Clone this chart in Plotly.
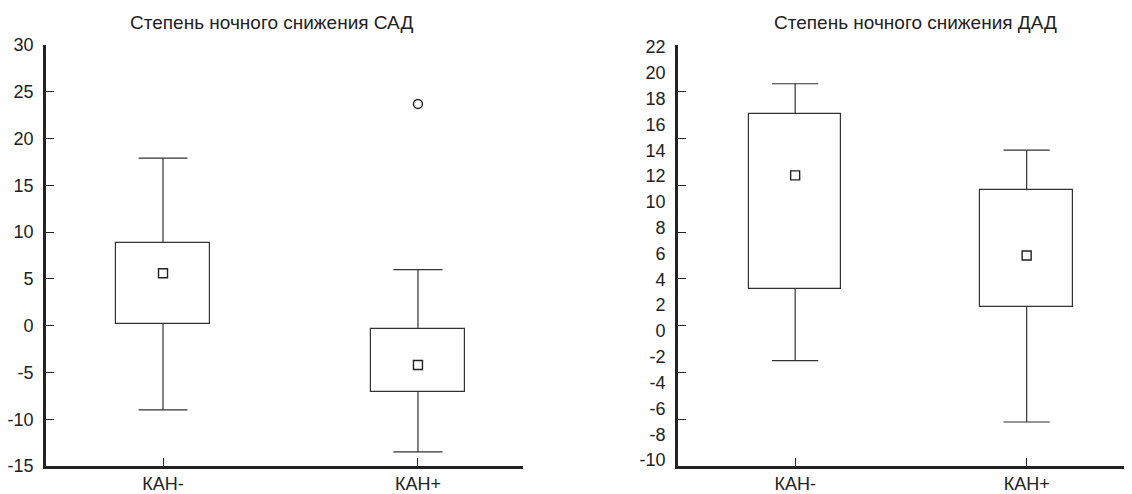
import plotly.graph_objects as go

# ---- data ----
categories = ["КАН-", "КАН+"]

sad_q1 = [0.2, -7.1]
sad_q3 = [8.85, -0.35]
sad_mean = [5.6, -4.2]
sad_low = [-9.0, -13.5]
sad_high = [17.9, 6.0]
sad_outlier_cat = [1]
sad_outlier_val = [23.7]

dad_q1 = [3.25, 1.85]
dad_q3 = [16.8, 10.9]
dad_mean = [12.05, 5.85]
dad_low = [-2.3, -7.05]
dad_high = [19.15, 14.0]

sad_ticks = [-15, -10, -5, 0, 5, 10, 15, 20, 25, 30]
dad_ticks = list(range(-10, 23, 2))

titles = ["Степень ночного снижения САД", "Степень ночного снижения ДАД"]

# ---- style ----
FONT = "Liberation Sans, Arial, sans-serif"
INK = "#222222"
BOXLINE = "#333333"
# the page body adds an 8px offset; figure sized so that it fills the window
OFF = 8
W, H = 1132 - OFF, 494 - OFF
PLOT_TOP, PLOT_BOTTOM = 45 - OFF, 466 - OFF


def px(x):
    return (x - OFF) / W


pos = list(range(len(categories)))
zeros = [0] * len(pos)


def add_panel(fig, q1, q3, low, high, mean, xa, ya, box_w, cap_size):
    # box body
    fig.add_trace(go.Bar(
        x=pos, base=q1, y=[b - a for a, b in zip(q1, q3)], width=box_w,
        marker=dict(color="white", line=dict(color=BOXLINE, width=1.2)),
        showlegend=False, hoverinfo="skip", xaxis=xa, yaxis=ya))
    cap = dict(symbol="line-ew-open", size=cap_size, color=BOXLINE,
               line=dict(color=BOXLINE, width=1.2))
    # upper whiskers: cap at the whisker end, stem down to the box
    fig.add_trace(go.Scatter(
        x=pos, y=high, mode="markers", marker=cap,
        error_y=dict(type="data", symmetric=False, array=zeros,
                     arrayminus=[h - b for b, h in zip(q3, high)],
                     color=BOXLINE, thickness=1.2, width=0),
        showlegend=False, hoverinfo="skip", xaxis=xa, yaxis=ya))
    # lower whiskers
    fig.add_trace(go.Scatter(
        x=pos, y=low, mode="markers", marker=cap,
        error_y=dict(type="data", symmetric=False, arrayminus=zeros,
                     array=[a - lo for a, lo in zip(q1, low)],
                     color=BOXLINE, thickness=1.2, width=0),
        showlegend=False, hoverinfo="skip", xaxis=xa, yaxis=ya))
    # means
    fig.add_trace(go.Scatter(
        x=pos, y=mean, mode="markers",
        marker=dict(symbol="square-open", size=9, color=INK, line=dict(width=1.4)),
        showlegend=False, xaxis=xa, yaxis=ya))


fig = go.Figure()
add_panel(fig, sad_q1, sad_q3, sad_low, sad_high, sad_mean, "x", "y", 0.37, 35)
fig.add_trace(go.Scatter(
    x=sad_outlier_cat, y=sad_outlier_val, mode="markers",
    marker=dict(symbol="circle-open", size=9, color=INK, line=dict(width=1.4)),
    showlegend=False, xaxis="x", yaxis="y"))
add_panel(fig, dad_q1, dad_q3, dad_low, dad_high, dad_mean, "x2", "y2", 0.40, 33)
# empty trace to carry the tick-mark axis of the right panel
fig.add_trace(go.Scatter(x=[], y=[], mode="markers", showlegend=False,
                         hoverinfo="skip", xaxis="x2", yaxis="y3"))

tickfont = dict(family=FONT, size=18, color=INK)
common_x = dict(showline=True, linewidth=2.6, linecolor=INK, ticks="inside",
                ticklen=8, tickwidth=1.2, tickcolor=INK, showgrid=False,
                zeroline=False, tickmode="array", tickvals=pos,
                ticktext=categories, tickfont=tickfont, ticklabelstandoff=0,
                automargin=False)

plot_h = PLOT_BOTTOM - PLOT_TOP
title_y = (PLOT_BOTTOM - (22 - OFF)) / plot_h

fig.update_layout(
    width=W, height=H,
    margin=dict(l=0, r=0, t=PLOT_TOP, b=H - PLOT_BOTTOM),
    paper_bgcolor="white", plot_bgcolor="white",
    bargap=0,
    xaxis=dict(domain=[px(46), px(523)], range=[-0.459, 1.412], anchor="y", **common_x),
    yaxis=dict(domain=[0, 1], range=[-15, 30], anchor="x", tickmode="array",
               tickvals=sad_ticks, ticktext=[str(v) for v in sad_ticks],
               showline=True, linewidth=2.6, linecolor=INK,
               ticks="inside", ticklen=8, tickwidth=1.2, tickcolor=INK,
               showgrid=False, zeroline=False, tickfont=tickfont,
               ticklabelstandoff=6, automargin=False),
    xaxis2=dict(domain=[px(678), 1.0], range=[-0.506, 1.455], anchor="y2", **common_x),
    yaxis2=dict(domain=[0, 1], range=[-10.46, 22.15], anchor="x2", tickmode="array",
                tickvals=dad_ticks, ticktext=[str(v) for v in dad_ticks],
                showline=True, linewidth=2.6, linecolor=INK,
                ticks="", showgrid=False, zeroline=False, tickfont=tickfont,
                ticklabelstandoff=6, automargin=False),
    yaxis3=dict(overlaying="y2", anchor="x2", side="left", range=[0, 9],
                tickmode="linear", tick0=0, dtick=1,
                ticks="inside", ticklen=8, tickwidth=1.2, tickcolor=INK,
                showticklabels=False, showgrid=False, zeroline=False, showline=False,
                automargin=False),
    annotations=[
        dict(text=titles[0], x=px(271), y=title_y, xref="paper", yref="paper",
             showarrow=False, xanchor="center", yanchor="middle",
             font=dict(family=FONT, size=19, color=INK)),
        dict(text=titles[1], x=px(915), y=title_y, xref="paper", yref="paper",
             showarrow=False, xanchor="center", yanchor="middle",
             font=dict(family=FONT, size=19, color=INK)),
    ],
)

fig.write_html("out.html")
